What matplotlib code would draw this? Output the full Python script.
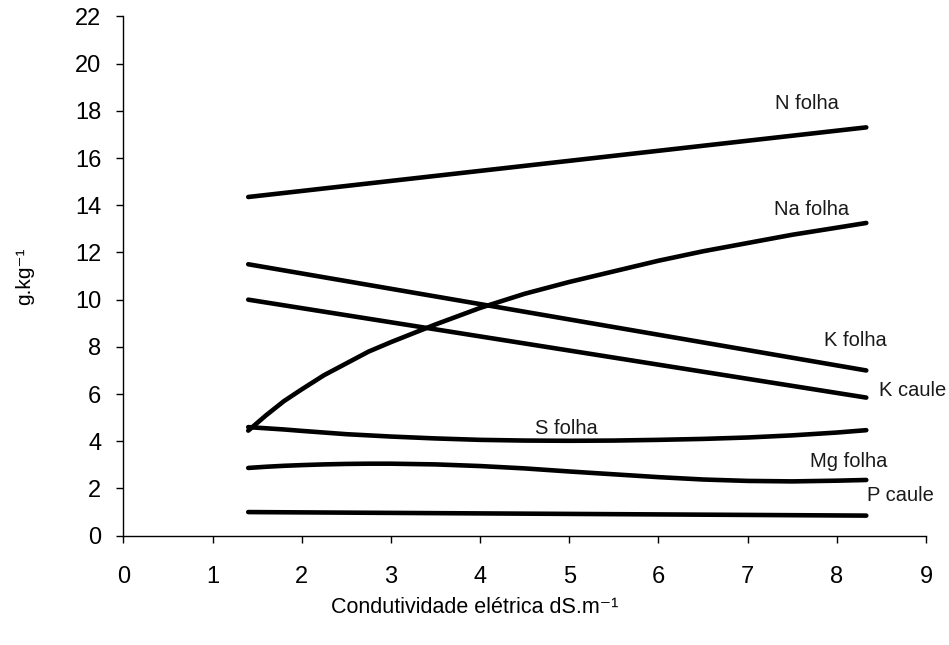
import numpy as np
import matplotlib
matplotlib.use("Agg")
import matplotlib.pyplot as plt

plt.rcParams["font.family"] = ["Liberation Sans", "DejaVu Sans"]

# valores (x = condutividade eletrica)
x_lin = [1.4, 8.33]
n_folha = [14.35, 17.3]
k_folha = [11.5, 7.0]
k_caule = [10.0, 5.85]
p_caule = [1.0, 0.85]

x_curv = [1.4, 1.6, 1.8, 2.0, 2.25, 2.5, 2.75, 3.0, 3.5, 4.0, 4.5, 5.0, 5.5, 6.0, 6.5, 7.0, 7.5, 8.0, 8.33]
na_folha = [4.45, 5.1, 5.7, 6.2, 6.8, 7.3, 7.8, 8.2, 8.95, 9.65, 10.25, 10.75, 11.2, 11.65, 12.05, 12.4, 12.75, 13.05, 13.25]
s_folha = [4.6, 4.55, 4.5, 4.44, 4.37, 4.3, 4.25, 4.2, 4.12, 4.06, 4.03, 4.02, 4.03, 4.06, 4.1, 4.16, 4.25, 4.37, 4.47]
mg_folha = [2.87, 2.92, 2.96, 2.99, 3.02, 3.04, 3.05, 3.05, 3.02, 2.95, 2.85, 2.72, 2.6, 2.48, 2.38, 2.32, 2.3, 2.33, 2.36]

labels = ["N folha", "Na folha", "K folha", "K caule", "S folha", "Mg folha", "P caule"]
label_x = [7.66, 7.72, 8.21, 8.85, 4.97, 8.13, 8.71]
label_y = [18.33, 13.84, 8.28, 6.17, 4.56, 3.16, 1.72]

fig = plt.figure(figsize=(9.49, 6.45), dpi=100)
ax = fig.add_axes([0.13, 0.1695, 0.8458, 0.805])

lw = 3.3
for ys in [n_folha, k_folha, k_caule, p_caule]:
    ax.plot(x_lin, ys, color="black", lw=lw, solid_capstyle="round")
for ys in [na_folha, s_folha, mg_folha]:
    ax.plot(x_curv, ys, color="black", lw=lw, solid_capstyle="round", solid_joinstyle="round")

for t, lx, ly in zip(labels, label_x, label_y):
    ax.text(lx, ly, t, fontsize=14.5, ha="center", va="center", color="#1a1a1a")

ax.set_xlim(0, 9)
ax.set_ylim(0, 22)
ax.set_xticks(range(0, 10))
ax.set_yticks(range(0, 23, 2))
ax.spines["top"].set_visible(False)
ax.spines["right"].set_visible(False)
ax.spines["left"].set_linewidth(1.0)
ax.spines["bottom"].set_linewidth(1.0)
ax.tick_params(axis="x", direction="out", length=5, width=1.0, pad=17, labelsize=17)
ax.tick_params(axis="y", direction="out", length=5, width=1.0, pad=11, labelsize=17)

fig.text(0.026, 0.572, "g.kg\u207b\u00b9", rotation=90, fontsize=15, ha="center", va="center")
fig.text(0.5, 0.058, "Condutividade elétrica dS.m\u207b\u00b9", fontsize=15.5, ha="center", va="center")

fig.savefig("out.png", dpi=100)
